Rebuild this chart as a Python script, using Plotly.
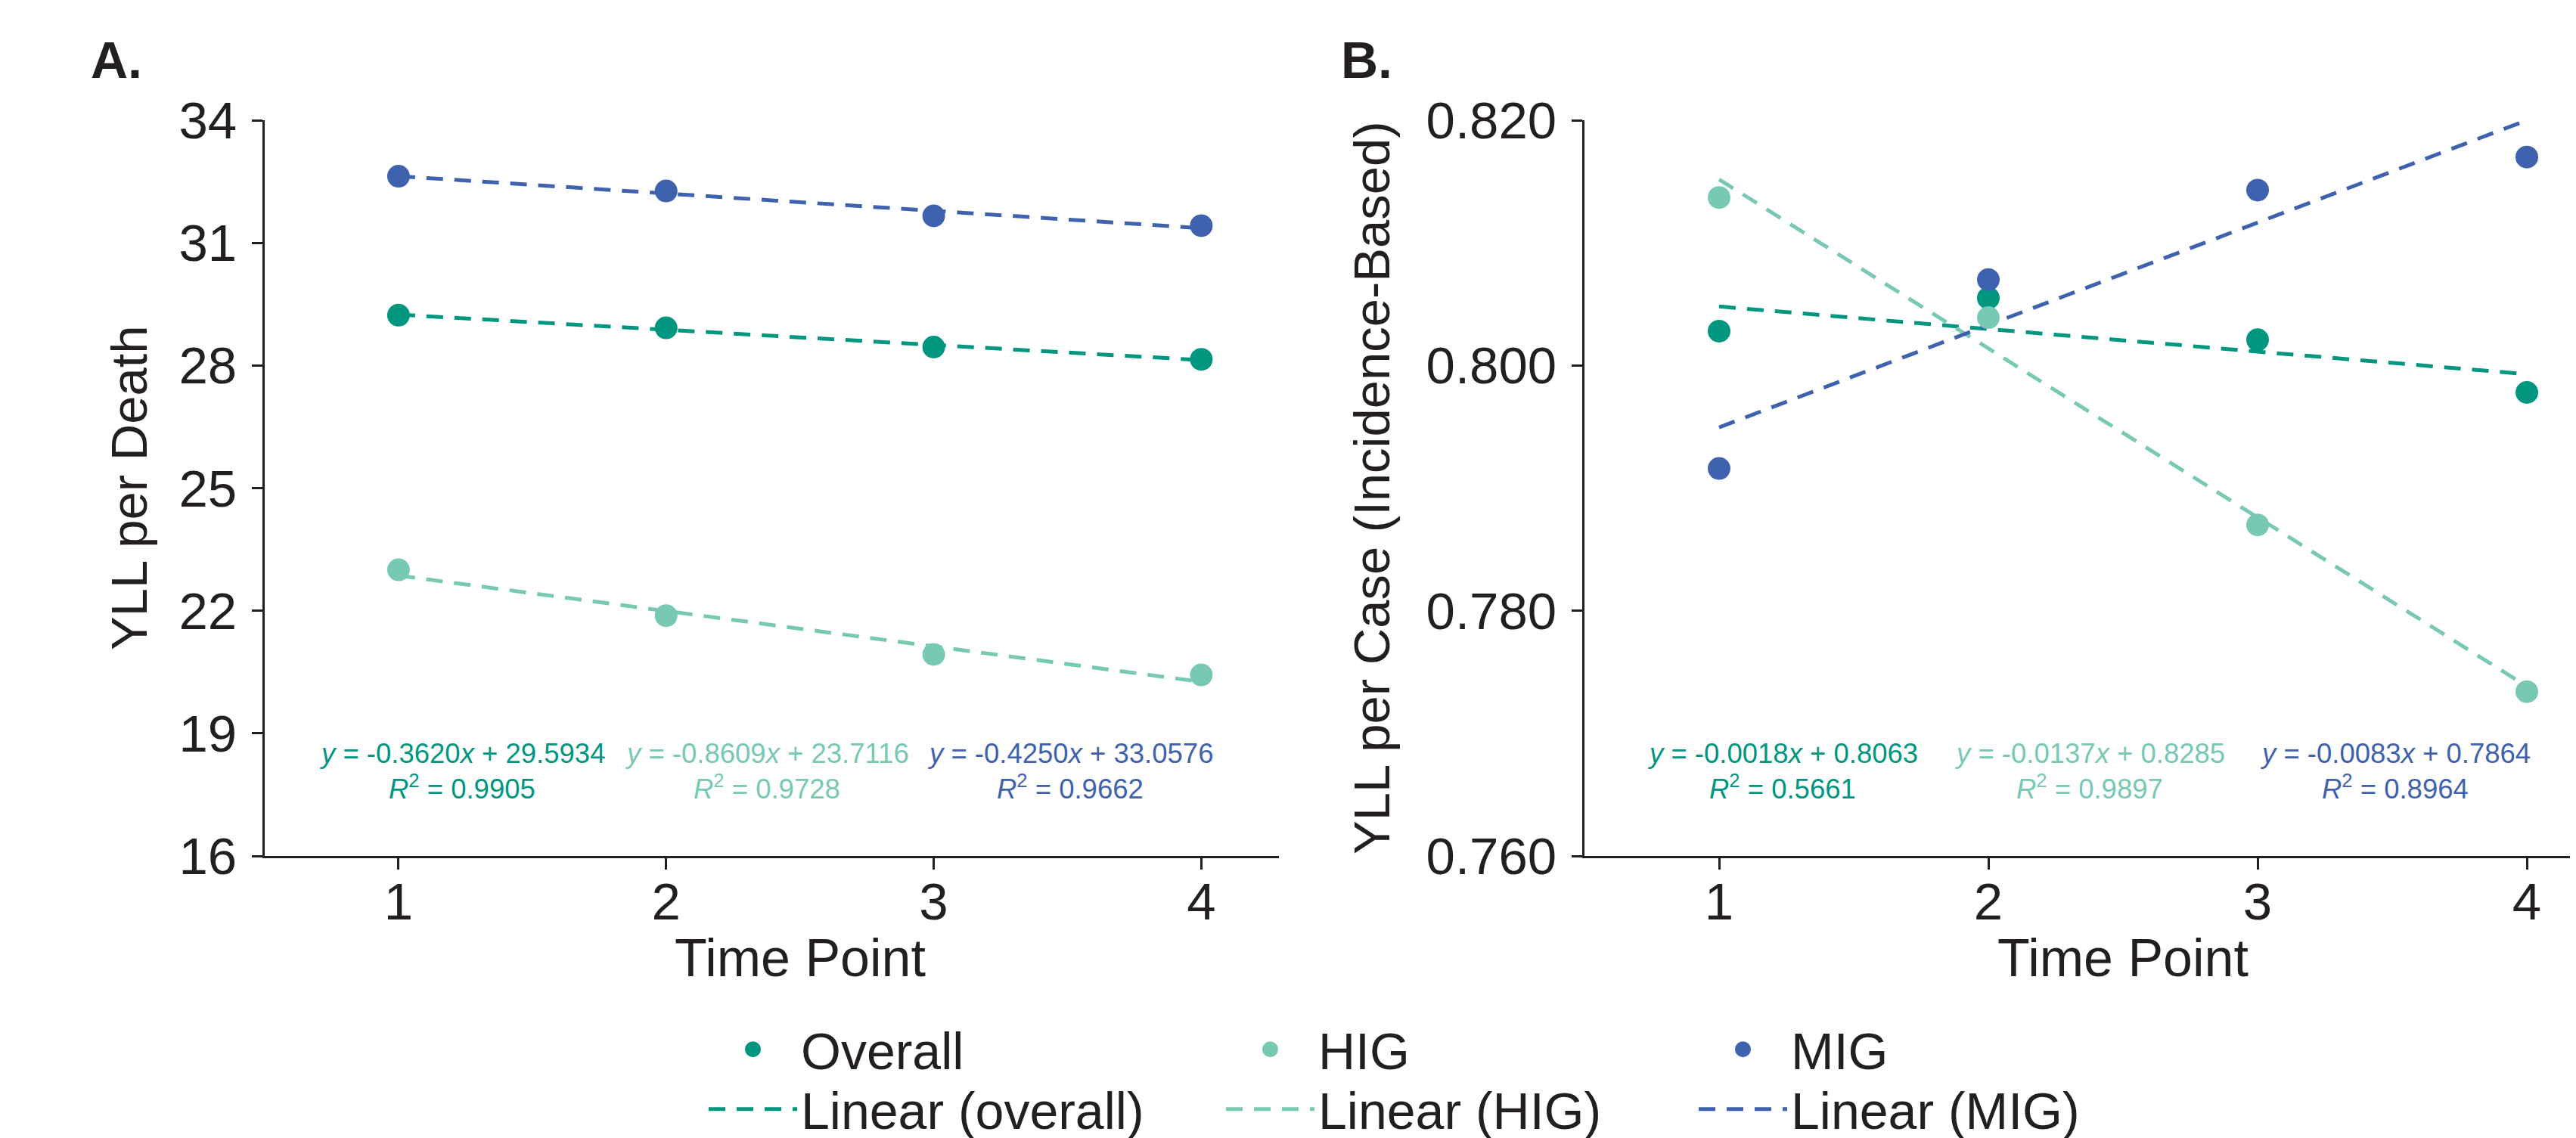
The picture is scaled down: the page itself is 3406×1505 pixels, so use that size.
import numpy as np
import plotly.graph_objects as go

# ---------------- data ----------------
time_points = [1, 2, 3, 4]
group_names = ["Overall", "HIG", "MIG"]
trend_names = ["Linear (overall)", "Linear (HIG)", "Linear (MIG)"]

# Panel A: YLL per death
yll_death_overall = [29.23, 28.92, 28.45, 28.15]
yll_death_hig = [23.00, 21.88, 20.93, 20.43]
yll_death_mig = [32.63, 32.27, 31.66, 31.42]

# Panel B: YLL per case (incidence-based)
yll_case_overall = [0.8028, 0.8055, 0.8021, 0.7978]
yll_case_hig = [0.8137, 0.8039, 0.7870, 0.7734]
yll_case_mig = [0.7916, 0.8070, 0.8143, 0.8170]

# Regression labels (as printed)
eq_labels_A = ["-0.3620", "-0.8609", "-0.4250"]
int_labels_A = ["29.5934", "23.7116", "33.0576"]
r2_labels_A = ["0.9905", "0.9728", "0.9662"]
eq_labels_B = ["-0.0018", "-0.0137", "-0.0083"]
int_labels_B = ["0.8063", "0.8285", "0.7864"]
r2_labels_B = ["0.5661", "0.9897", "0.8964"]

ticks_A = [16, 19, 22, 25, 28, 31, 34]
ticks_B = [0.760, 0.780, 0.800, 0.820]

colors = ["#00967F", "#78C9B4", "#3F62AE"]
ink = "#231F20"
FONT = "Liberation Sans, Arial, Helvetica, sans-serif"

W, H = 3406, 1505

fig = go.Figure()

panels = [
    ("x", "y", [yll_death_overall, yll_death_hig, yll_death_mig]),
    ("x2", "y2", [yll_case_overall, yll_case_hig, yll_case_mig]),
]

legend_ids = [["legend", "legend2", "legend3"], ["legend4", "legend5", "legend6"]]

t = np.array(time_points, dtype=float)
for p, (xa, ya, series) in enumerate(panels):
    # trend lines first (below markers)
    for i, vals in enumerate(series):
        m, b = np.polyfit(t, np.array(vals), 1)
        xx = np.array([t.min(), t.max()])
        fig.add_trace(go.Scatter(
            x=xx, y=m * xx + b, mode="lines", xaxis=xa, yaxis=ya,
            line=dict(color=colors[i], width=5, dash="22px,15px"),
            name=trend_names[i], showlegend=(p == 0),
            legend=legend_ids[1][i], hoverinfo="skip"))
    for i, vals in enumerate(series):
        fig.add_trace(go.Scatter(
            x=time_points, y=vals, mode="markers", xaxis=xa, yaxis=ya,
            marker=dict(color=colors[i], size=25, line=dict(color=colors[i], width=5)),
            name=group_names[i], showlegend=(p == 0),
            legend=legend_ids[0][i]))

# --------------- axes ---------------
ydom = [1 - 1124 / H, 1 - 151 / H]
axis_common = dict(showline=True, linecolor=ink, linewidth=3, ticks="outside",
                   tickcolor=ink, tickwidth=3, showgrid=False, zeroline=False,
                   tickfont=dict(family=FONT, size=69, color=ink), automargin=False)

fig.update_layout(
    xaxis=dict(domain=[342 / W, 1683 / W], range=[0.5, 4.29], tickvals=time_points,
               ticklen=15, ticklabelstandoff=-17, anchor="y", **axis_common),
    yaxis=dict(domain=ydom, range=[16, 34], tickvals=ticks_A, ticklen=14,
               ticklabelstandoff=6, anchor="x", **axis_common),
    xaxis2=dict(domain=[2087 / W, 1.0], range=[0.5, 4.205], tickvals=time_points,
                ticklen=15, ticklabelstandoff=-17, anchor="y2", **axis_common),
    yaxis2=dict(domain=ydom, range=[0.76, 0.82], tickvals=ticks_B, tickformat=".3f",
                ticklen=14, ticklabelstandoff=6, anchor="x2", **axis_common),
)

annotations = []
# panel letters
for txt, xpx in [("A.", 110), ("B.", 1763)]:
    annotations.append(dict(text="<b>%s</b>" % txt, x=xpx / W, y=1 - 71 / H, xref="paper", yref="paper",
                            xanchor="left", yanchor="middle", showarrow=False,
                            font=dict(family=FONT, size=68, color=ink)))
# y titles
for txt, xpx in [("YLL per Death", 163), ("YLL per Case (Incidence-Based)", 1806)]:
    annotations.append(dict(text=txt, x=xpx / W, y=1 - 637 / H, xref="paper", yref="paper",
                            xanchor="center", yanchor="middle", textangle=-90, showarrow=False,
                            font=dict(family=FONT, size=67, color=ink)))
# x titles
for xr in ["x", "x2"]:
    annotations.append(dict(text="Time Point", x=2.5, y=1 - 1259 / H, xref=xr, yref="paper",
                            xanchor="center", yanchor="middle", showarrow=False,
                            font=dict(family=FONT, size=70, color=ink)))
# regression equations
eq_x = [1.237, 2.377, 3.51]
for xr, eqs, ints, r2s in [("x", eq_labels_A, int_labels_A, r2_labels_A),
                           ("x2", eq_labels_B, int_labels_B, r2_labels_B)]:
    for i in range(3):
        annotations.append(dict(text="<i>y</i> = %s<i>x</i> + %s" % (eqs[i], ints[i]),
                                x=eq_x[i], y=1 - 988 / H, xref=xr, yref="paper",
                                xanchor="center", yanchor="middle", showarrow=False,
                                font=dict(family=FONT, size=36.5, color=colors[i])))
        annotations.append(dict(text="<i>R</i><sup>2</sup> = %s" % r2s[i],
                                x=eq_x[i], y=1 - 1033 / H, xref=xr, yref="paper",
                                xanchor="center", yanchor="middle", showarrow=False,
                                font=dict(family=FONT, size=36.5, color=colors[i])))

legend_text_x = [1053, 1737, 2362]
legend_row_y = [1380, 1459]
ITEMW = 117
legends = {}
for r in range(2):
    for c in range(3):
        legends[legend_ids[r][c]] = dict(
            x=(legend_text_x[c] - ITEMW - 12) / W, y=1 - legend_row_y[r] / H,
            xanchor="left", yanchor="middle", bgcolor="rgba(0,0,0,0)",
            itemwidth=ITEMW, borderwidth=0, tracegroupgap=0,
            font=dict(family=FONT, size=68, color=ink), itemclick=False)

fig.update_layout(
    width=W, height=H,
    margin=dict(l=0, r=0, t=0, b=0, pad=0, autoexpand=False),
    paper_bgcolor="white", plot_bgcolor="white",
    annotations=annotations,
    showlegend=True,
    **legends,
)

fig.write_html("out.html")
